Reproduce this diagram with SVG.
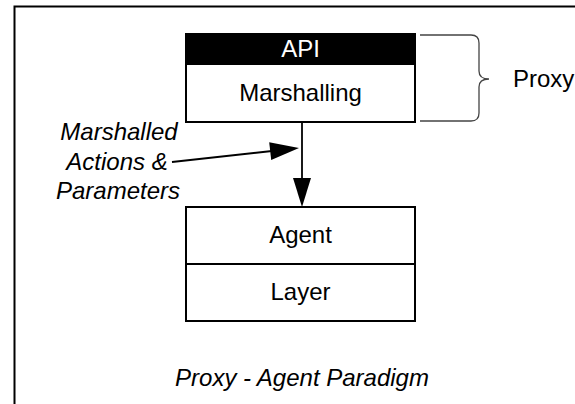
<svg xmlns="http://www.w3.org/2000/svg" width="575" height="404" viewBox="0 0 575 404">
  <style>
    .box { fill: #ffffff; stroke: #000000; stroke-width: 2; }
    .lbl { font-family: "Liberation Sans", Arial, sans-serif; font-size: 24px; fill: #000000; text-anchor: middle; }
    .ital { font-style: italic; }
    .wire { stroke: #000000; stroke-width: 1.8; fill: none; }
    .head { fill: #000000; stroke: none; }
    .brace { stroke: #444444; stroke-width: 1.3; fill: none; }
  </style>

  <!-- page background and frame (runs off the right and bottom edges) -->
  <rect x="0" y="0" width="575" height="404" fill="#ffffff"/>
  <rect x="14.5" y="6.5" width="620" height="460" fill="none" stroke="#000000" stroke-width="2"/>

  <!-- proxy stack: API header over marshalling layer -->
  <g id="proxy">
    <rect class="box" x="186" y="34" width="229" height="88"/>
    <rect x="186" y="34" width="229" height="31" fill="#000000"/>
    <text class="lbl" x="300.5" y="57" style="fill:#ffffff">API</text>
    <text class="lbl" x="300.5" y="101">Marshalling</text>
  </g>

  <!-- agent stack -->
  <g id="agent">
    <rect class="box" x="186" y="207" width="229" height="114"/>
    <line x1="186" y1="264" x2="415" y2="264" stroke="#000000" stroke-width="2"/>
    <text class="lbl" x="300.5" y="243">Agent</text>
    <text class="lbl" x="300.5" y="300">Layer</text>
  </g>

  <!-- brace grouping the proxy stack -->
  <g id="proxy-brace">
    <path class="brace" d="M420,35 H471 Q479,35 479,43 V71 Q479,79 489,79 Q479,79 479,87 V113 Q479,121 471,121 H420"/>
    <text class="lbl" x="513" y="87" style="text-anchor:start">Proxy</text>
  </g>

  <!-- callout text for the call stream -->
  <g id="call-label">
    <text class="lbl ital" x="119" y="140">Marshalled</text>
    <text class="lbl ital" x="117" y="170">Actions &amp;</text>
    <text class="lbl ital" x="118" y="199">Parameters</text>
  </g>

  <!-- connectors -->
  <g id="connectors">
    <line class="wire" x1="302" y1="122" x2="302" y2="182"/>
    <polygon class="head" points="302,207 293,178 311,178"/>
    <line class="wire" x1="172" y1="162" x2="272" y2="151"/>
    <polygon class="head" points="299,148 271.2,160.1 269.2,142.3"/>
  </g>

  <!-- caption -->
  <text class="lbl ital" x="302" y="386">Proxy - Agent Paradigm</text>
</svg>
